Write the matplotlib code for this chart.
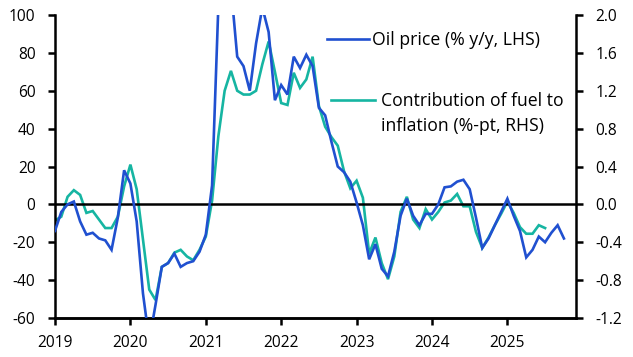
import numpy as np
import matplotlib
matplotlib.use("Agg")
import matplotlib.pyplot as plt
from matplotlib.lines import Line2D

# Monthly data
oil_start = 2019.0   # Jan 2019
oil_yy = [
    -14, -4, 0, 1.5, -9, -16, -15, -18, -19, -24, -7, 18,          # 2019
    11, -9, -47, -72, -53, -33, -31, -26, -33, -31, -30, -25,       # 2020
    -16, 10, 105, 190, 115, 78, 73, 60, 85, 104, 91, 55,            # 2021
    63, 58, 78, 72, 79, 73, 51, 47, 33, 20, 17, 12,                 # 2022
    1, -11, -29, -21, -34, -38, -25, -6, 3, -6, -11, -5,            # 2023
    -5, 0, 9, 9.5, 12, 13, 8, -7, -23, -18, -11, -4,                # 2024
    3, -6, -14, -28, -24, -17, -20, -15, -11, -18,                  # 2025
]
fuel_contrib = [
    -0.17, -0.13, 0.08, 0.15, 0.10, -0.09, -0.07, -0.16, -0.25, -0.25, -0.13, 0.19,   # 2019
    0.42, 0.16, -0.37, -0.90, -1.01, -0.66, -0.62, -0.51, -0.48, -0.55, -0.59, -0.48,  # 2020
    -0.34, 0.04, 0.72, 1.20, 1.41, 1.20, 1.16, 1.16, 1.20, 1.48, 1.72, 1.40,          # 2021
    1.07, 1.05, 1.39, 1.23, 1.32, 1.56, 1.04, 0.82, 0.71, 0.62, 0.35, 0.17,           # 2022
    0.25, 0.07, -0.52, -0.35, -0.62, -0.79, -0.55, -0.08, 0.08, -0.16, -0.25, -0.05,  # 2023
    -0.16, -0.08, 0.02, 0.04, 0.11, -0.02, -0.02, -0.29, -0.46, -0.35, -0.22, -0.10,  # 2024
    0.03, -0.09, -0.24, -0.31, -0.31, -0.22, -0.25,                                   # 2025
]
year_ticks = [2019, 2020, 2021, 2022, 2023, 2024, 2025]
lhs_ticks = [-60, -40, -20, 0, 20, 40, 60, 80, 100]
rhs_ticks = [-1.2, -0.8, -0.4, 0.0, 0.4, 0.8, 1.2, 1.6, 2.0]
label_oil = "Oil price (% y/y, LHS)"
label_fuel_lines = ["Contribution of fuel to", "inflation (%-pt, RHS)"]

t_oil = oil_start + np.arange(len(oil_yy)) / 12.0
t_fuel = oil_start + np.arange(len(fuel_contrib)) / 12.0

BLUE = "#2050d0"
TEAL = "#16b5a2"
FS = 11.2      # tick labels
LFS = 12.7     # legend text

plt.rcParams['font.family'] = ['Open Sans', 'DejaVu Sans']
plt.rcParams['font.size'] = FS

fig = plt.figure(figsize=(6.33, 3.57), dpi=100)
ax = fig.add_axes([55/633, 1-318/357, (576-55)/633, (318-15)/357])
ax2 = ax.twinx()

ax.plot(t_oil, oil_yy, color=BLUE, lw=1.9, zorder=3, solid_joinstyle='miter')
ax2.plot(t_fuel, fuel_contrib, color=TEAL, lw=1.9, zorder=2, solid_joinstyle='miter')
ax.axhline(0, color='black', lw=1.8, zorder=1)

ax.set_xlim(2019.0, 2025.91)
ax.set_ylim(-60, 100)
ax2.set_ylim(-1.2, 2.0)

ax.set_xticks(year_ticks)
ax.set_xticklabels([str(y) for y in year_ticks])
ax.set_yticks(lhs_ticks)
ax.set_yticklabels([str(v) for v in lhs_ticks])
ax2.set_yticks(rhs_ticks)
ax2.set_yticklabels([f"{v:.1f}" for v in rhs_ticks])

for a in (ax, ax2):
    a.spines['top'].set_visible(False)
    for s in ('left', 'right', 'bottom'):
        a.spines[s].set_linewidth(1.8)
        a.spines[s].set_color('black')
    a.tick_params(axis='both', which='major', direction='out', length=5,
                  width=1.8, color='black', labelsize=FS, pad=9)
ax2.spines['left'].set_visible(False)
ax.spines['right'].set_visible(False)
ax.tick_params(axis='x', pad=7.5)

# put blue line above teal
ax.set_zorder(ax2.get_zorder() + 1)
ax.patch.set_visible(False)

h1 = Line2D([], [], color=BLUE, lw=1.9)
h2 = Line2D([], [], color=TEAL, lw=1.9)
h_blank = Line2D([], [], color='none', lw=0)
leg1 = fig.legend([h1], [label_oil], loc='center left',
                  bbox_to_anchor=(326.5/633, 1-40/357), frameon=False,
                  handlelength=2.4, handletextpad=0.18, borderpad=0, borderaxespad=0,
                  fontsize=LFS)
leg2 = fig.legend([h2, h_blank], label_fuel_lines, loc='upper left',
                  bbox_to_anchor=(331/633, 1-92/357), frameon=False,
                  handlelength=2.5, handletextpad=0.35, borderpad=0, borderaxespad=0,
                  fontsize=LFS, labelspacing=0.38)

fig.savefig("out.png", dpi=100)
